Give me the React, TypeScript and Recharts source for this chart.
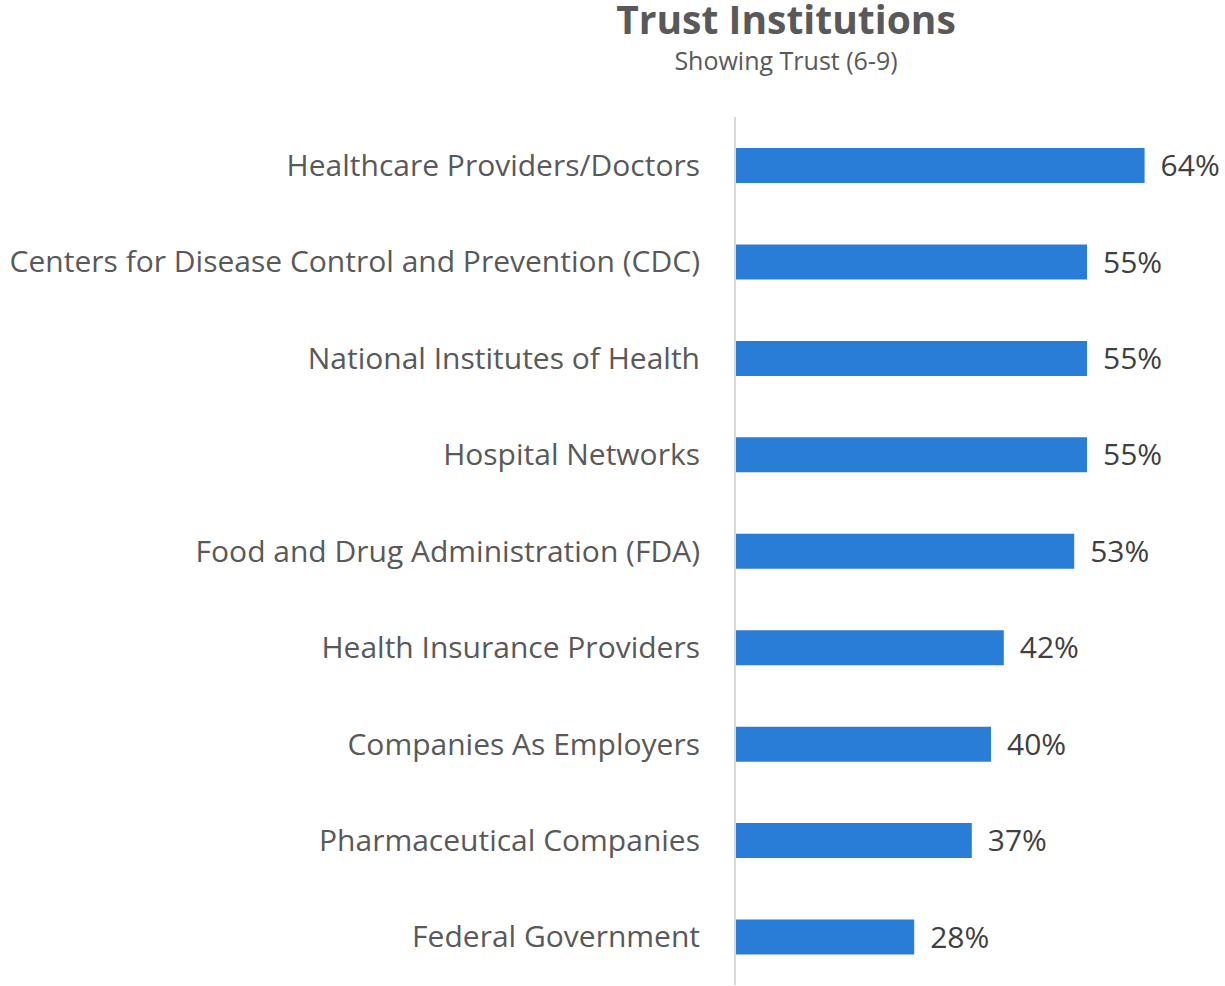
import React from "react";
import { BarChart, Bar, XAxis, YAxis, LabelList } from "recharts";

const categories = [
  "Healthcare Providers/Doctors",
  "Centers for Disease Control and Prevention (CDC)",
  "National Institutes of Health",
  "Hospital Networks",
  "Food and Drug Administration (FDA)",
  "Health Insurance Providers",
  "Companies As Employers",
  "Pharmaceutical Companies",
  "Federal Government",
];
const trustValues = [64, 55, 55, 55, 53, 42, 40, 37, 28];

const data = categories.map((name, i) => ({ name, value: trustValues[i] }));

const FONT = "'Open Sans', 'Noto Sans', sans-serif";

export default function App() {
  return (
    <div style={{ position: "absolute", left: 0, top: 0, width: 1225, height: 986, background: "#fff", fontFamily: FONT }}>
      <div style={{ position: "absolute", left: 586, width: 400, top: 0, textAlign: "center", fontSize: 39, fontWeight: 700, color: "#595959", lineHeight: "38px" }}>
        Trust Institutions
      </div>
      <div style={{ position: "absolute", left: 586, width: 400, top: 44, textAlign: "center", fontSize: 25, color: "#595959", lineHeight: "32px" }}>
        Showing Trust (6-9)
      </div>
      <BarChart
        width={1225}
        height={986}
        data={data}
        layout="vertical"
        margin={{ top: 117, right: 42, bottom: 1, left: 0 }}
      >
        <XAxis type="number" domain={[0, 70]} hide />
        <YAxis
          type="category"
          dataKey="name"
          width={735}
          tickLine={false}
          tickMargin={29}
          axisLine={{ stroke: "#D9D9D9", strokeWidth: 2 }}
          tick={{ fill: "#595959", fontSize: 30, fontFamily: FONT }}
          interval={0}
        />
        <Bar dataKey="value" fill="#2A7DD7" barSize={35} isAnimationActive={false}>
          <LabelList
            dataKey="value"
            position="right"
            offset={16}
            formatter={(v: any) => `${v}%`}
            style={{ fill: "#404040", fontSize: 30, fontFamily: FONT }}
          />
        </Bar>
      </BarChart>
    </div>
  );
}
